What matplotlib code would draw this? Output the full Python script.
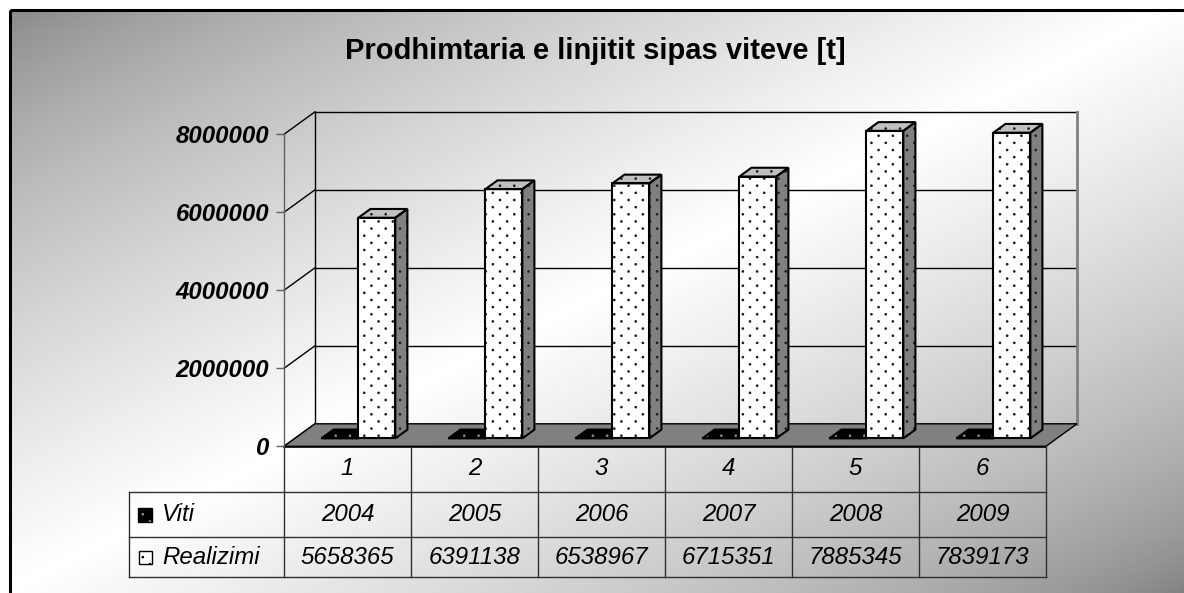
import numpy as np
import matplotlib
matplotlib.use('Agg')
import matplotlib.pyplot as plt
from matplotlib.patches import Polygon, Rectangle
from matplotlib import hatch as mhatch
from matplotlib.path import Path

# ---------------- data ----------------
categories = ['1', '2', '3', '4', '5', '6']
series_names = ['Viti', 'Realizimi']
viti = [2004, 2005, 2006, 2007, 2008, 2009]
realizimi = [5658365, 6391138, 6538967, 6715351, 7885345, 7839173]
yticks = [0, 2000000, 4000000, 6000000, 8000000]
title = 'Prodhimtaria e linjitit sipas viteve [t]'

# ---------------- layout (pixels) ----------------
W, H = 1184, 593
AX_L, AX_R = 284, 1046          # front plane x-range of categories
AX_T, AX_B = 134.3, 446.3       # front plane y of 8e6 and 0
DEPTH_PX = (31, 22.5)           # wall depth offset (dx, -dy)
F0, F1 = 0.35, 0.74             # bar depth span as fraction of wall depth
BAR_W = 0.291                   # bar width in category units
ROWS = [447, 491.7, 536.7, 577.3]
HDR_L = 129


# ---- sparse staggered dot texture (replaces the '.' hatch) ----
class DiamondDots(mhatch.HatchPatternBase):
    NX, NY, R = 7, 14, 0.007

    def __init__(self, hatch, density):
        n = hatch.count('.')
        self.centers = []
        if n:
            nx, ny = self.NX * n, self.NY * n
            for j in range(ny + 1):
                y = j / ny
                if j % 2 == 0:
                    xs = np.arange(nx + 1) / nx
                else:
                    xs = (np.arange(nx) + 0.5) / nx
                for x in xs:
                    self.centers.append((x, y))
        circ = Path.unit_circle()
        self.cv = circ.vertices * self.R
        self.cc = circ.codes
        self.num_vertices = len(self.centers) * len(self.cv)

    def set_vertices_and_codes(self, vertices, codes):
        m = len(self.cv)
        for k, (x, y) in enumerate(self.centers):
            vertices[k * m:(k + 1) * m] = self.cv + np.array([x, y])
            codes[k * m:(k + 1) * m] = self.cc


HATCH = '..'
try:
    if hasattr(mhatch, '_hatch_types') and mhatch.SmallFilledCircles in mhatch._hatch_types:
        idx = mhatch._hatch_types.index(mhatch.SmallFilledCircles)
        mhatch._hatch_types[idx] = DiamondDots
        HATCH = '.'
except Exception:
    HATCH = '..'

plt.rcParams['font.family'] = ['Liberation Sans', 'DejaVu Sans']
plt.rcParams['hatch.linewidth'] = 0.9

fig = plt.figure(figsize=(W / 100, H / 100), dpi=100)
fig.patch.set_facecolor('white')

# ---------------- background gradient ----------------
bg = fig.add_axes([9.5 / W, 0, 1 - 9.5 / W, 1 - 10 / H], zorder=0)
bg.set_axis_off()
gx = np.linspace(9.5 / W, 1, 600)
gy = np.linspace(10 / H, 1, 300)
GX, GY = np.meshgrid(gx, gy)
t = (GX + GY) / 2
v = np.clip(1 - np.abs(2 * t - 1), 0, 1)
g = 0.5 + 0.5 * v ** 0.7
bg.imshow(g, cmap='gray', vmin=0, vmax=1, aspect='auto', origin='upper',
          extent=[0, 1, 0, 1], interpolation='bilinear')

# ---------------- layout overlay (pixel coords) ----------------
lay = fig.add_axes([0, 0, 1, 1], zorder=1)
lay.set_xlim(0, W)
lay.set_ylim(H, 0)
lay.set_axis_off()
lay.patch.set_alpha(0)

lay.add_patch(Rectangle((9.5, 10), W, H, fill=False, lw=2.2, ec='black'))
lay.text(595, 59.3, title, fontsize=21, fontweight='bold', ha='center',
         va='baseline', color='black')

# table grid
col_w = (AX_R - AX_L) / len(categories)
tcol = '#303030'
lay.plot([AX_L, AX_R], [ROWS[0], ROWS[0]], color='black', lw=1.2)
for y in ROWS[1:]:
    lay.plot([HDR_L, AX_R], [y, y], color=tcol, lw=1.0)
lay.plot([HDR_L, HDR_L], [ROWS[1], ROWS[3]], color=tcol, lw=1.0)
for k in range(len(categories) + 1):
    x = AX_L + k * col_w
    lay.plot([x, x], [ROWS[0], ROWS[3]], color=tcol, lw=1.0)

row_c = [468.5, 514.3, 557.5]
tfs = 17.3
for i, cat in enumerate(categories):
    xc = AX_L + (i + 0.5) * col_w
    lay.text(xc, row_c[0], cat, fontsize=tfs, style='italic', ha='center', va='center')
    lay.text(xc, row_c[1], str(viti[i]), fontsize=tfs, style='italic', ha='center', va='center')
    lay.text(xc, row_c[2], str(realizimi[i]), fontsize=tfs, style='italic', ha='center', va='center')

# row headers with legend keys
lay.add_patch(Rectangle((137.5, 507.5), 14, 14, fc='black', ec='#909090', lw=0, hatch=HATCH))
lay.add_patch(Rectangle((137.5, 507.5), 14, 14, fill=False, ec='black', lw=1))
lay.add_patch(Rectangle((138.5, 551), 13, 13, fc='white', ec='black', lw=1, hatch=HATCH))
lay.text(162, row_c[1], series_names[0], fontsize=tfs, style='italic', ha='left', va='center')
lay.text(162, row_c[2], series_names[1], fontsize=tfs, style='italic', ha='left', va='center')

# ---------------- main 3D-like axes ----------------
ax = fig.add_axes([AX_L / W, 1 - AX_B / H, (AX_R - AX_L) / W, (AX_B - AX_T) / H], zorder=2)
ax.patch.set_alpha(0)
ax.set_xlim(0, len(categories))
ax.set_ylim(yticks[0], yticks[-1])
px_per_val = (AX_B - AX_T) / (yticks[-1] - yticks[0])
Dx = DEPTH_PX[0] / col_w
Dy = DEPTH_PX[1] / px_per_val
for s in ['top', 'right', 'bottom']:
    ax.spines[s].set_visible(False)
ax.spines['left'].set_color('#606060')
ax.spines['left'].set_linewidth(1.0)
ax.set_xticks([])
ax.set_yticks(yticks)
ax.set_yticklabels([str(y) for y in yticks])
ax.tick_params(axis='y', length=6, width=1, color='#606060', pad=4.5,
               labelsize=17.3)
for lbl in ax.get_yticklabels():
    lbl.set_fontweight('bold')
    lbl.set_fontstyle('italic')

n = len(categories)
# floor
ax.add_patch(Polygon([(0, 0), (n, 0), (n + Dx, Dy), (Dx, Dy)], closed=True,
                     fc='#808080', ec='black', lw=1.0, clip_on=False, zorder=1))
# walls
for yv in yticks:
    ax.plot([Dx, n + Dx], [yv + Dy, yv + Dy], color='black', lw=1.0, clip_on=False, zorder=0.5)
    ax.plot([0, Dx], [yv, yv + Dy], color='black', lw=1.0, clip_on=False, zorder=0.5)
ax.plot([Dx, Dx], [Dy, yticks[-1] + Dy], color='black', lw=1.0, clip_on=False, zorder=0.5)
ax.plot([n + Dx, n + Dx], [Dy, yticks[-1] + Dy], color='#808080', lw=2.0, clip_on=False, zorder=0.5)


def bar3d(x0, w, h, front, side, top, dots, zo):
    bx = x0 + F0 * Dx
    by = F0 * Dy
    ddx = (F1 - F0) * Dx
    ddy = (F1 - F0) * Dy
    faces = [
        ([(bx + w, by), (bx + w + ddx, by + ddy), (bx + w + ddx, by + h + ddy), (bx + w, by + h)], side),
        ([(bx, by + h), (bx + w, by + h), (bx + w + ddx, by + h + ddy), (bx + ddx, by + h + ddy)], top),
        ([(bx, by), (bx + w, by), (bx + w, by + h), (bx, by + h)], front),
    ]
    for pts, fc in faces:
        ax.add_patch(Polygon(pts, closed=True, fc=fc, ec=dots, lw=0, hatch=HATCH,
                             clip_on=False, zorder=zo))
        ax.add_patch(Polygon(pts, closed=True, fill=False, ec='black', lw=1.5,
                             clip_on=False, zorder=zo + 0.01, joinstyle='miter'))


for i in range(n):
    c = i + 0.5
    bar3d(c - BAR_W, BAR_W, viti[i], 'black', 'black', 'black', '#8a8a8a', 2 + i * 0.1)
    bar3d(c, BAR_W, realizimi[i], 'white', '#808080', '#c0c0c0', '#202020', 2.05 + i * 0.1)

fig.savefig('out.png', dpi=100)
